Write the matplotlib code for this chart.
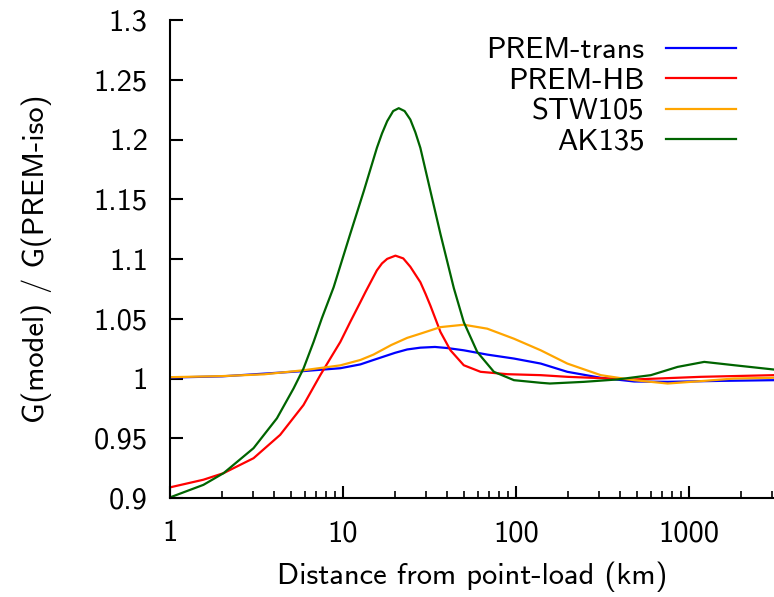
import numpy as np
import matplotlib
matplotlib.use("Agg")
import matplotlib.pyplot as plt

plt.rcParams['font.family'] = ['cmss10', 'DejaVu Sans']
plt.rcParams['axes.unicode_minus'] = False

# distances (km) and ratios
x_trans = [1, 2, 5.91, 9.65, 12.6, 15, 20, 23.5, 28, 34, 40, 49.9, 68.2, 97.3, 139, 198,
           309, 482, 752, 1500, 3100]
y_trans = [1.0008, 1.0018, 1.0062, 1.0086, 1.0118, 1.0155, 1.0215, 1.0243, 1.0258, 1.0264,
           1.0255, 1.0236, 1.02, 1.0167, 1.0125, 1.0056, 1.0006, 0.9975, 0.9972, 0.998, 0.9986]

x_hb = [1, 1.56, 2.04, 3.04, 4.33, 5.91, 7.39, 8.44, 9.65, 11.0, 12.6, 13.5, 15.7, 16.8,
        18.0, 20.1, 22.3, 24.5, 28.0, 30.0, 32.0, 36.6, 41.8, 49.9, 62.4, 89.1, 139, 198,
        482, 1172, 3100]
y_hb = [0.9089, 0.9153, 0.9208, 0.9333, 0.9528, 0.9778, 1.0028, 1.0167, 1.0306, 1.0472,
        1.0639, 1.0725, 1.0905, 1.0963, 1.1001, 1.1028, 1.1005, 1.0935, 1.0806, 1.0708,
        1.061, 1.0389, 1.0236, 1.0111, 1.0056, 1.0036, 1.0028, 1.0014, 0.9992, 1.0014, 1.0028]

x_stw = [1, 2, 3.5, 5.91, 9.65, 12.6, 15, 19, 23.5, 28.0, 36.6, 49.9, 68.2, 97.3, 139, 198,
         309, 482, 752, 1172, 1828, 3100]
y_stw = [1.0011, 1.002, 1.0035, 1.0069, 1.011, 1.0155, 1.020, 1.028, 1.034, 1.0375, 1.043,
         1.045, 1.0417, 1.0333, 1.0236, 1.0125, 1.0028, 0.9986, 0.9958, 0.9978, 1.0, 1.0006]

x_ak = [1, 1.56, 2.04, 3.04, 4.15, 5.18, 5.91, 6.76, 7.55, 8.83, 11.0, 13.2, 15.7, 16.8,
        18.0, 19.5, 21.0, 22.7, 24.5, 26.2, 28.0, 32.0, 36.6, 43.7, 49.9, 59.7, 74.5, 97.3,
        139, 157, 247, 385, 602, 859, 1225, 1828, 3100]
y_ak = [0.9005, 0.911, 0.9208, 0.9417, 0.9667, 0.9917, 1.0083, 1.0306, 1.0505, 1.0764,
        1.1208, 1.157, 1.193, 1.205, 1.2153, 1.2238, 1.2262, 1.2238, 1.2167, 1.206, 1.193,
        1.157, 1.1208, 1.0757, 1.0472, 1.0222, 1.0056, 0.9986, 0.9964, 0.9958, 0.9972,
        0.9992, 1.0028, 1.0097, 1.0139, 1.0111, 1.0075]

fig = plt.figure(figsize=(7.74, 5.97), dpi=100)
ax = fig.add_axes([170/774, 99/597, 604/774, 478/597])

ax.plot(x_trans, y_trans, color='#0000ff', lw=1.6, label='PREM-trans')
ax.plot(x_hb, y_hb, color='#ff0000', lw=1.6, label='PREM-HB')
ax.plot(x_stw, y_stw, color='#ffa500', lw=1.6, label='STW105')
ax.plot(x_ak, y_ak, color='#006400', lw=1.6, label='AK135')

ax.set_xscale('log')
ax.set_xlim(1, 3100)
ax.set_ylim(0.9, 1.3)
ax.set_xticks([1, 10, 100, 1000])
ax.set_xticklabels(['1', '10', '100', '1000'])
ax.set_yticks([0.9, 0.95, 1.0, 1.05, 1.1, 1.15, 1.2, 1.25, 1.3])
ax.set_yticklabels(['0.9', '0.95', '1', '1.05', '1.1', '1.15', '1.2', '1.25', '1.3'])

for s in ['top', 'right']:
    ax.spines[s].set_visible(False)
ax.spines['left'].set_linewidth(1.5)
ax.spines['bottom'].set_linewidth(1.5)
ax.tick_params(which='major', direction='in', length=9, width=1.5, labelsize=22, pad=16)
ax.tick_params(which='minor', direction='in', length=5, width=1.2)

ax.set_xlabel('Distance from point-load (km)', fontsize=22, labelpad=10)
ax.set_ylabel('G(model) / G(PREM-iso)', fontsize=22, labelpad=30)

ax.legend(loc='upper right', frameon=False, markerfirst=False, fontsize=22,
          handlelength=2.3, handletextpad=0.7, labelspacing=0.1, borderaxespad=0,
          borderpad=0, bbox_to_anchor=(736/774, 1 - 37/597), bbox_transform=fig.transFigure)

fig.savefig('out.png', dpi=100)
